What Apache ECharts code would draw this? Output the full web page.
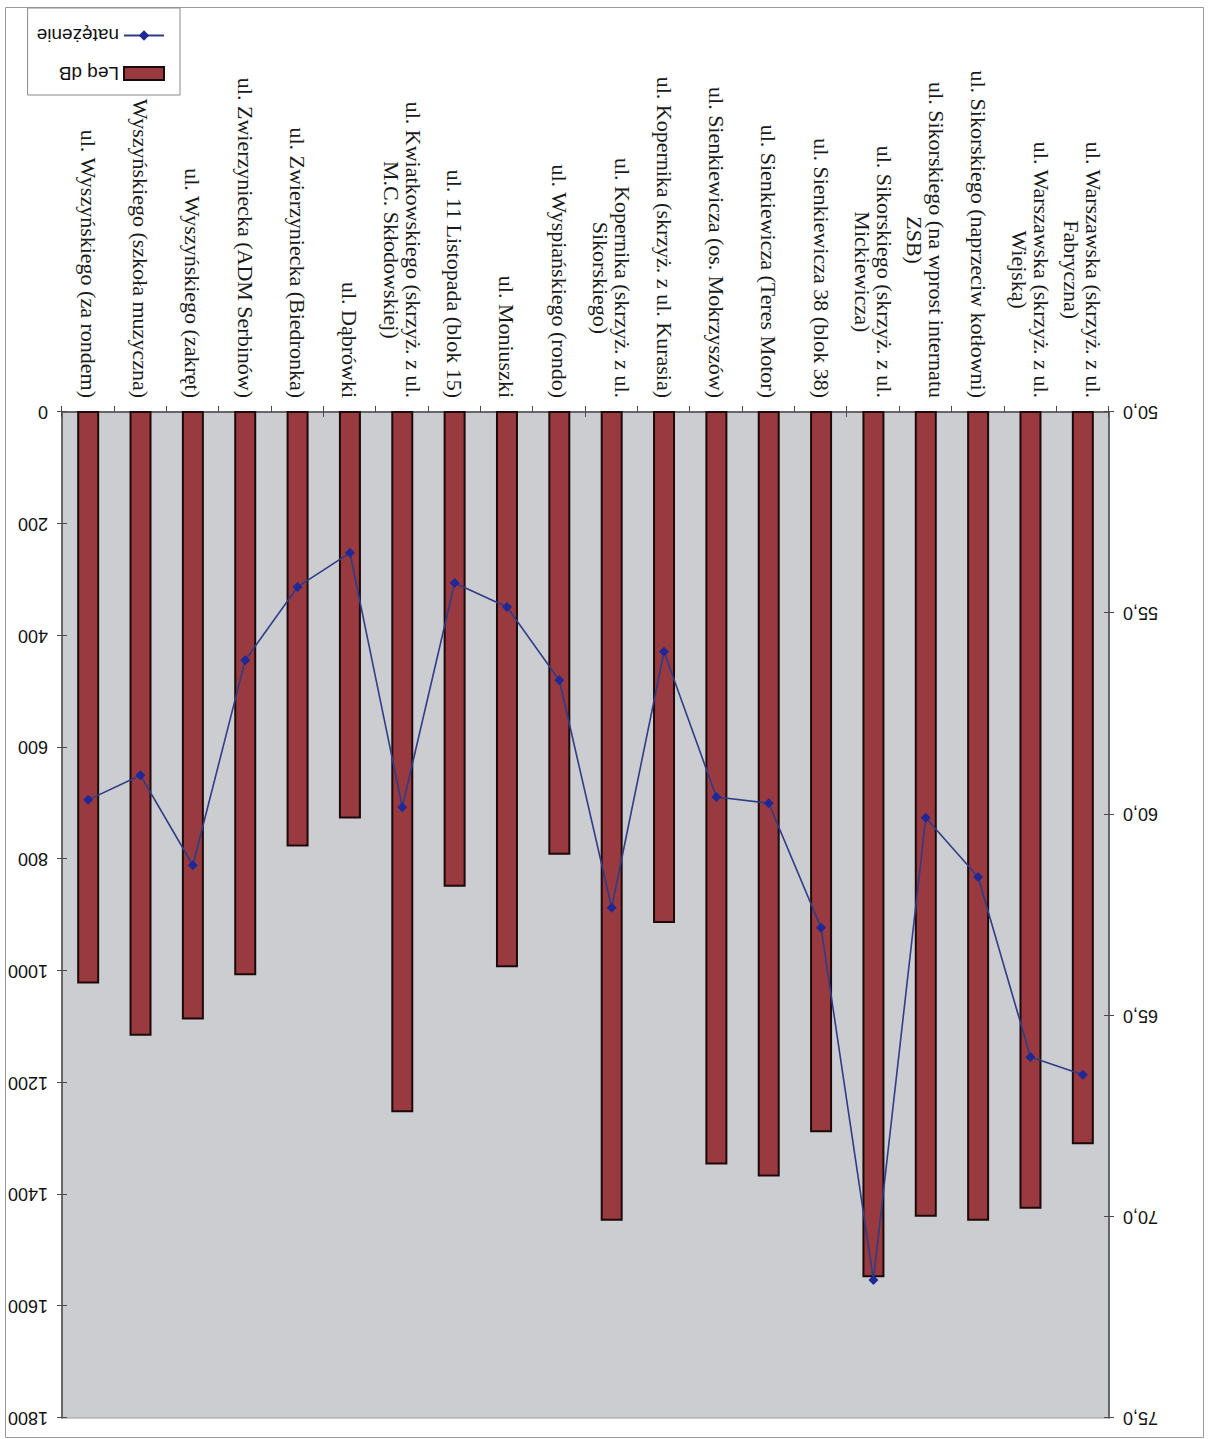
<!DOCTYPE html>
<html>
<head>
<meta charset="utf-8">
<title>Leq dB / natężenie</title>
<script src="https://cdn.jsdelivr.net/npm/echarts@6/dist/echarts.min.js"></script>
<style>
  html, body { margin: 0; padding: 0; background: #fff; overflow: hidden; }
  /* the sheet is printed turned upside down */
  #chart { width: 1210px; height: 1439px; transform: rotate(180deg); transform-origin: 50% 50%; }
</style>
</head>
<body>
<div id="chart"></div>
<script>
// Measurement points, in axis order
const categories = [
  "ul. Warszawska (skrzyż. z ul.\nFabryczna)",
  "ul. Warszawska (skrzyż. z ul.\nWiejską)",
  "ul. Sikorskiego (naprzeciw kotłowni)",
  "ul. Sikorskiego (na wprost internatu\nZSB)",
  "ul. Sikorskiego (skrzyż. z ul.\nMickiewicza)",
  "ul. Sienkiewicza 38 (blok 38)",
  "ul. Sienkiewicza (Teres Motor)",
  "ul. Sienkiewicza (os. Mokrzyszów)",
  "ul. Kopernika (skrzyż. z ul. Kurasia)",
  "ul. Kopernika (skrzyż. z ul.\nSikorskiego)",
  "ul. Wyspiańskiego (rondo)",
  "ul. Moniuszki",
  "ul. 11 Listopada (blok 15)",
  "ul. Kwiatkowskiego (skrzyż. z ul.\nM.C. Skłodowskiej)",
  "ul. Dąbrówki",
  "ul. Zwierzyniecka (Biedronka)",
  "ul. Zwierzyniecka (ADM Serbinów)",
  "ul. Wyszyńskiego (zakręt)",
  "ul. Wyszyńskiego (szkoła muzyczna)",
  "ul. Wyszyńskiego (za rondem)"
];

// Equivalent sound level, dB
const leqDb = [68.2, 69.8, 70.1, 70.0, 71.5, 67.9, 69.0, 68.7, 62.7, 70.1,
               61.0, 63.8, 61.8, 67.4, 60.1, 60.8, 64.0, 65.1, 65.5, 64.2];

// Traffic volume
const natezenie = [1186, 1154, 832, 726, 1553, 923, 700, 689, 429, 887,
                   480, 349, 306, 707, 252, 313, 444, 811, 650, 694];

// Axis ranges
const dbAxis = { min: 50, max: 75, step: 5 };
const trafficAxis = { min: 0, max: 1800, step: 200 };

const seriesNames = ["Leq dB", "natężenie"];

const chart = echarts.init(document.getElementById('chart'), null, { renderer: 'svg' });

const axisColor = '#4a4a4a';
const labelFont = 'Liberation Sans, Arial, sans-serif';
const catFont = 'Liberation Serif, Times New Roman, serif';

function catLabel(v) {
  return v.split('\n').map((p, i) => (i === 0 ? '{a|' + p + '}' : '{b|' + p + '}')).join('\n');
}

function valueAxis(cfg, pos, fmt, inside) {
  return {
    type: 'value',
    position: pos,
    min: cfg.min,
    max: cfg.max,
    interval: cfg.step,
    axisLine: { show: !inside, lineStyle: { color: axisColor, width: 1.5 } },
    axisTick: { show: true, inside: inside, length: 5, lineStyle: { color: axisColor, width: 1 } },
    splitLine: { show: false },
    axisLabel: inside ? { show: false } : {
      show: true, margin: 14, color: '#111', fontFamily: labelFont, fontSize: 18, formatter: fmt
    }
  };
}

const option = {
  animation: false,
  backgroundColor: '#fff',
  graphic: [{
    type: 'rect', silent: true,
    shape: { x: 6.5, y: 1.5, width: 1198, height: 1430 },
    style: { fill: 'none', stroke: '#9a9a9a', lineWidth: 1 }
  }],
  grid: {
    left: 101, right: 62, top: 21, bottom: 412,
    show: true, backgroundColor: '#cbcdd1', borderColor: '#9a9a9a', borderWidth: 1
  },
  legend: {
    orient: 'vertical',
    left: 1030, top: 1344,
    padding: [12, 9, 18, 15],
    itemGap: 19, itemWidth: 40, itemHeight: 13, itemTextGap: 6,
    backgroundColor: '#fff', borderColor: '#8a8a8a', borderWidth: 1,
    textStyle: { fontFamily: labelFont, fontSize: 19, color: '#111' },
    data: [{ name: seriesNames[0], icon: 'rect' }, { name: seriesNames[1] }]
  },
  xAxis: [{
    type: 'category',
    data: categories,
    position: 'bottom',
    axisLine: { show: true, lineStyle: { color: axisColor, width: 1.5 } },
    axisTick: { show: true, length: 6, lineStyle: { color: axisColor, width: 1 } },
    axisLabel: {
      interval: 0, rotate: 90, margin: 14,
      color: '#1a1a1a', fontFamily: catFont, fontSize: 22, lineHeight: 22,
      formatter: catLabel,
      rich: {
        a: { fontFamily: catFont, fontSize: 22, lineHeight: 22, color: '#1a1a1a', align: 'right' },
        b: { fontFamily: catFont, fontSize: 22, lineHeight: 22, color: '#1a1a1a', align: 'center' }
      }
    }
  }, {
    type: 'category',
    data: categories,
    position: 'bottom',
    axisLine: { show: false },
    axisTick: { show: true, inside: true, length: 5, lineStyle: { color: axisColor, width: 1 } },
    axisLabel: { show: false }
  }],
  yAxis: [
    valueAxis(dbAxis, 'left', v => v.toFixed(1).replace('.', ','), false),
    valueAxis(trafficAxis, 'right', v => String(v), false),
    valueAxis(dbAxis, 'left', null, true),
    valueAxis(trafficAxis, 'right', null, true)
  ],
  series: [{
    name: seriesNames[0],
    type: 'bar',
    xAxisIndex: 0, yAxisIndex: 0,
    data: leqDb,
    barWidth: '42%',
    itemStyle: { color: '#983a3f', borderColor: '#1c0a0a', borderWidth: 2 }
  }, {
    name: seriesNames[1],
    type: 'line',
    xAxisIndex: 0, yAxisIndex: 1,
    data: natezenie,
    symbol: 'diamond', symbolSize: 10,
    lineStyle: { color: '#2f3c86', width: 1.6 },
    itemStyle: { color: '#1e2896' },
    z: 5
  }]
};

chart.setOption(option);
</script>
</body>
</html>
